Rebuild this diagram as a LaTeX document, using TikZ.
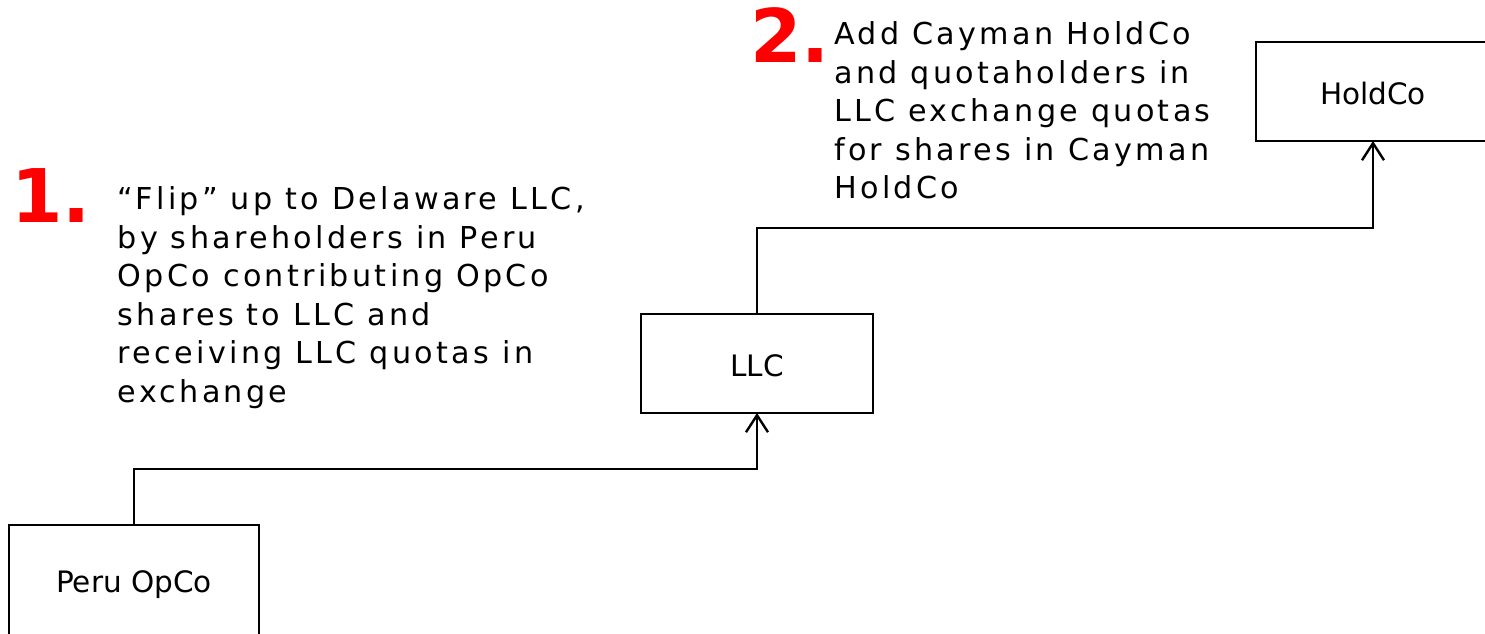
\documentclass[tikz,border=0pt]{standalone}
\usepackage{fontspec}
\setmainfont{DejaVu Sans}
\newfontfamily\descfont[LetterSpace=11]{DejaVu Sans}
\usetikzlibrary{arrows.meta}
\definecolor{numred}{RGB}{255,0,0}
\tikzset{
  entity/.style={draw, line width=2.4pt, rectangle, inner sep=0pt, outer sep=0pt,
    font=\fontsize{29.5}{34}\selectfont, text height=26pt},
  conn/.style={line width=2.4pt, -{Straight Barb[length=17pt,width=22pt,line width=2.4pt]}},
  desc/.style={anchor=north west, inner sep=0pt, align=left,
    font=\descfont\fontsize{30.2}{38.6}\selectfont},
  stepnum/.style={anchor=base west, inner sep=0pt, text=numred,
    font=\fontsize{74}{80}\selectfont\bfseries}
}
\begin{document}
\begin{tikzpicture}[x=1pt,y=-1pt]
\useasboundingbox (0,0) rectangle (1485,634);
% entities
\node[entity, minimum width=250pt, minimum height=115pt] (opco) at (134,582.5) {Peru OpCo};
\node[entity, minimum width=232pt, minimum height=99pt] (llc) at (757,363.5) {LLC};
\node[entity, minimum width=234pt, minimum height=99pt] (holdco) at (1373,91.5) {HoldCo};
% connectors
\coordinate (e1) at (134,469);
\coordinate (e2) at (757,228);
\draw[conn] (opco.north) -- (e1) -| (llc.south);
\draw[conn] (llc.north) -- (e2) -| (holdco.south);
% step numbers
\node[stepnum] (n1) at (11,222) {1.};
\node[stepnum] (n2) at (750,63) {2.};
% descriptions
\node[desc] (d1) at (117.5,184.3) {\rule{0pt}{25pt}“Flip” up to Delaware LLC,\\by shareholders in Peru\\OpCo contributing OpCo\\shares to LLC and\\receiving LLC quotas in\\exchange};
\node[desc] (d2) at (834,19.3) {\rule{0pt}{25pt}Add Cayman HoldCo\\and quotaholders in\\LLC exchange quotas\\for shares in Cayman\\HoldCo};
\end{tikzpicture}
\end{document}
